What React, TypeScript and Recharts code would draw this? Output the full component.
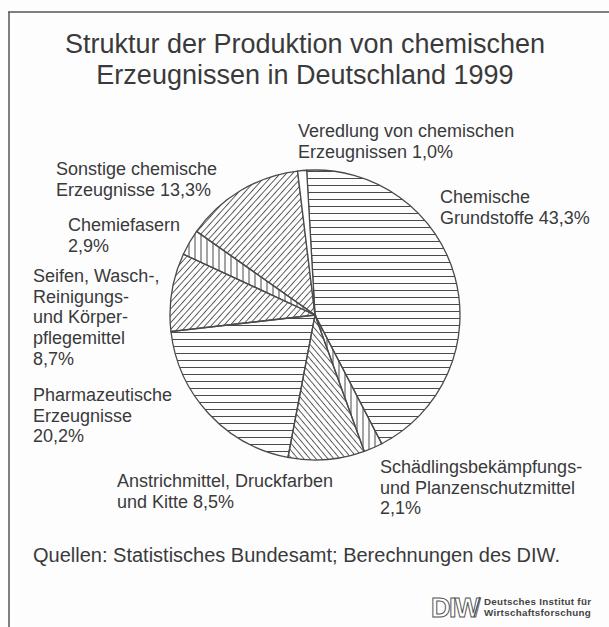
import React from 'react';
import { PieChart, Pie, Cell } from 'recharts';

const categories = [
  'Chemische Grundstoffe',
  'Schädlingsbekämpfungs- und Planzenschutzmittel',
  'Anstrichmittel, Druckfarben und Kitte',
  'Pharmazeutische Erzeugnisse',
  'Seifen, Wasch-, Reinigungs- und Körperpflegemittel',
  'Chemiefasern',
  'Sonstige chemische Erzeugnisse',
  'Veredlung von chemischen Erzeugnissen',
];
const shares = [43.3, 2.1, 8.5, 20.2, 8.7, 2.9, 13.3, 1.0];
const patternIds = ['hLines', 'vLines', 'bDiag', 'hLines', 'fDiag', 'vLines', 'fDiag', 'blank'];

const labelLines = [
  ['Chemische', 'Grundstoffe 43,3%'],
  ['Schädlingsbekämpfungs-', 'und Planzenschutzmittel', '2,1%'],
  ['Anstrichmittel, Druckfarben', 'und Kitte 8,5%'],
  ['Pharmazeutische', 'Erzeugnisse', '20,2%'],
  ['Seifen, Wasch-,', 'Reinigungs-', 'und Körper-', 'pflegemittel', '8,7%'],
  ['Chemiefasern', '2,9%'],
  ['Sonstige chemische', 'Erzeugnisse 13,3%'],
  ['Veredlung von chemischen', 'Erzeugnissen 1,0%'],
];
const titleLines = ['Struktur der Produktion von chemischen', 'Erzeugnissen in Deutschland 1999'];
const sourceText = 'Quellen: Statistisches Bundesamt; Berechnungen des DIW.';
const logoMark = 'DIW';
const logoLines = ['Deutsches Institut für', 'Wirtschaftsforschung'];

const labelPos = [
  { x: 440, y: 203 },
  { x: 380, y: 473 },
  { x: 117, y: 487 },
  { x: 33, y: 401 },
  { x: 33, y: 282 },
  { x: 68, y: 231 },
  { x: 56, y: 175 },
  { x: 298, y: 137 },
];

const FONT = "'Liberation Sans', Arial, Helvetica, sans-serif";
const INK = '#3a3a3a';
const LINE = '#4a4a4a';

const data = categories.map((name, i) => ({ name, value: shares[i] }));

export default function App() {
  return (
    <div style={{ position: 'absolute', left: 0, top: 0, width: 609, height: 627, background: '#fdfdfe' }}>
      <PieChart width={609} height={627} margin={{ top: 0, right: 0, bottom: 0, left: 0 }}>
        <defs>
          <pattern id="hLines" patternUnits="userSpaceOnUse" width="10" height="7">
            <line x1="0" y1="3.5" x2="10" y2="3.5" stroke={LINE} strokeWidth="1" />
          </pattern>
          <pattern id="vLines" patternUnits="userSpaceOnUse" width="6" height="10">
            <line x1="3" y1="0" x2="3" y2="10" stroke={LINE} strokeWidth="1" />
          </pattern>
          <pattern id="fDiag" patternUnits="userSpaceOnUse" width="4.6" height="10" patternTransform="rotate(42)">
            <line x1="2.3" y1="0" x2="2.3" y2="10" stroke={LINE} strokeWidth="0.9" />
          </pattern>
          <pattern id="bDiag" patternUnits="userSpaceOnUse" width="4.6" height="10" patternTransform="rotate(-40)">
            <line x1="2.3" y1="0" x2="2.3" y2="10" stroke={LINE} strokeWidth="0.9" />
          </pattern>
          <pattern id="blank" patternUnits="userSpaceOnUse" width="10" height="10">
            <rect x="0" y="0" width="10" height="10" fill="#ffffff" />
          </pattern>
        </defs>

        <line x1={8} y1={12} x2={609} y2={12} stroke="#555" strokeWidth={1.5} />
        <line x1={9} y1={12} x2={9} y2={627} stroke="#555" strokeWidth={1.5} />

        <Pie
          data={data}
          dataKey="value"
          nameKey="name"
          cx={315}
          cy={315}
          outerRadius={145}
          startAngle={93.3}
          endAngle={-266.7}
          stroke={LINE}
          strokeWidth={1.3}
          isAnimationActive={false}
          labelLine={false}
          label={false}
        >
          {data.map((d, i) => (
            <Cell key={d.name} fill={`url(#${patternIds[i]})`} />
          ))}
        </Pie>

        <g fontFamily={FONT} fill={INK}>
          {titleLines.map((t, i) => (
            <text key={t} x={305} y={53 + i * 31} textAnchor="middle" fontSize={27}>
              {t}
            </text>
          ))}
          {labelLines.map((lines, i) => (
            <text key={categories[i]} x={labelPos[i].x} y={labelPos[i].y} fontSize={18}>
              {lines.map((l, j) => (
                <tspan key={j} x={labelPos[i].x} dy={j === 0 ? 0 : 20.7}>
                  {l}
                </tspan>
              ))}
            </text>
          ))}
          <text x={33} y={562} fontSize={20}>
            {sourceText}
          </text>
          <text x={431} y={617} fontSize={27} fontWeight={700} fill="#ffffff" stroke="#555" strokeWidth={1} letterSpacing={-1.5}>
            {logoMark}
          </text>
          <line x1={474} y1={617} x2={480} y2={597} stroke="#555" strokeWidth={1.5} />
          {logoLines.map((t, i) => (
            <text key={t} x={484} y={605 + i * 10.5} fontSize={9.8} fontWeight={700} letterSpacing={0.3} fill="#444">
              {t}
            </text>
          ))}
        </g>
      </PieChart>
    </div>
  );
}
